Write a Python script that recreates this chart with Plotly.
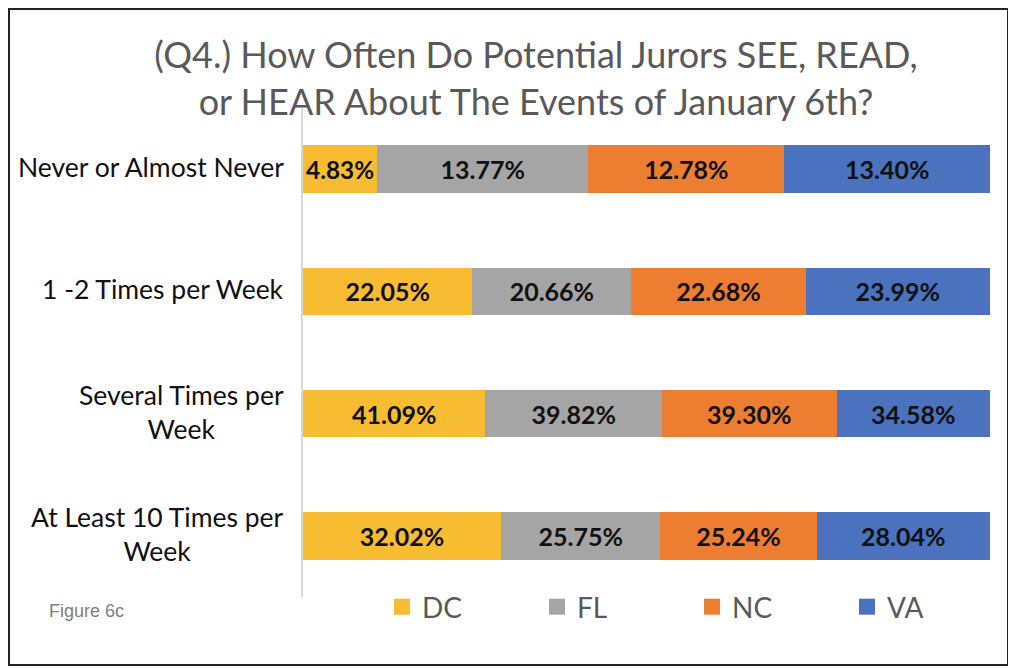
import plotly.graph_objects as go

categories = [
    "Never or Almost Never",
    "1 -2 Times per Week",
    "Several Times per<br>Week",
    "At Least 10 Times per<br>Week",
]
dc = [4.83, 22.05, 41.09, 32.02]
fl = [13.77, 20.66, 39.82, 25.75]
nc = [12.78, 22.68, 39.30, 25.24]
va = [13.40, 23.99, 34.58, 28.04]

series = [
    ("DC", dc, "#F8BC32"),
    ("FL", fl, "#A5A5A5"),
    ("NC", nc, "#ED7D31"),
    ("VA", va, "#4A72BF"),
]

# the page has an 8px body margin, so the figure sits 8px in from the window
OFF = 8
W, H = 1016 - OFF, 668 - OFF
L, R, T, B = 303, 990, 108, 597  # plot area in window pixels


def px_x(v):
    return (v - L) / (R - L)


def px_y(v):
    return (B - v) / (B - T)


fig = go.Figure()
for name, values, color in series:
    fig.add_trace(
        go.Bar(
            name=name,
            y=categories,
            x=values,
            orientation="h",
            marker=dict(color=color, line=dict(width=0)),
            text=[f"{v:.2f}%" for v in values],
            textposition="inside",
            insidetextanchor="middle",
            textangle=0,
            textfont=dict(family="Lato", size=25, color="#111111", weight="bold"),
            showlegend=False,
        )
    )
    # legend-only entry with a bigger square swatch
    fig.add_trace(
        go.Scatter(
            name=name,
            x=[None],
            y=[None],
            mode="markers",
            marker=dict(symbol="square", size=16, color=color),
        )
    )

label_annotations = [
    dict(
        text=cat,
        xref="paper",
        yref="y",
        x=px_x(286),
        y=cat,
        xanchor="right",
        yanchor="middle",
        yshift=2,
        align="center",
        showarrow=False,
        font=dict(family="Lato", size=26.5, color="#111111"),
    )
    for cat in categories
]

fig.update_layout(
    width=W,
    height=H,
    barmode="stack",
    barnorm="percent",
    bargap=0.61,
    paper_bgcolor="white",
    plot_bgcolor="white",
    margin=dict(l=L - OFF, r=W - (R - OFF), t=T - OFF, b=H - (B - OFF), autoexpand=False),
    title=dict(
        text="(Q4.) How Often Do Potential Jurors SEE, READ,<br>or HEAR About The Events of January 6th?",
        x=(536 - OFF) / W,
        xanchor="center",
        y=1 - 60 / H,
        yanchor="top",
        font=dict(family="Lato", size=36, color="#595959"),
    ),
    xaxis=dict(
        range=[0, 100],
        visible=False,
        showgrid=False,
        zeroline=False,
    ),
    yaxis=dict(
        autorange="reversed",
        showline=True,
        linecolor="#D9D9D9",
        linewidth=2,
        ticks="",
        showticklabels=False,
    ),
    legend=dict(
        orientation="h",
        traceorder="normal",
        x=px_x(382),
        xanchor="left",
        y=px_y(582),
        yanchor="top",
        entrywidth=110,
        entrywidthmode="pixels",
        font=dict(family="Lato", size=28, color="#595959"),
    ),
    annotations=label_annotations
    + [
        dict(
            text="Figure 6c",
            xref="paper",
            yref="paper",
            x=px_x(47),
            y=px_y(611),
            xanchor="left",
            yanchor="middle",
            showarrow=False,
            font=dict(family="Liberation Sans", size=18, color="#808080"),
        )
    ],
    shapes=[
        dict(
            type="rect",
            xref="paper",
            yref="paper",
            x0=px_x(9),
            x1=px_x(1008),
            y0=px_y(665),
            y1=px_y(9),
            line=dict(color="#222222", width=2),
            layer="below",
        )
    ],
)

fig.write_html("out.html")
